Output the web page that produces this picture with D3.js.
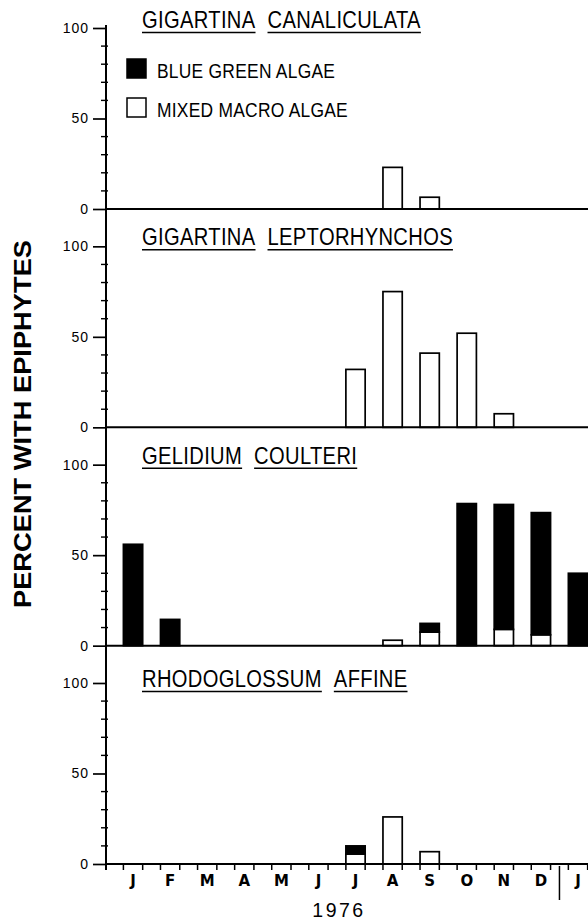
<!DOCTYPE html>
<html>
<head>
<meta charset="utf-8">
<script src="https://cdn.jsdelivr.net/npm/d3@7/dist/d3.min.js"></script>
<style>
  html, body { margin: 0; padding: 0; background: #fff; }
  svg { display: block; }
</style>
</head>
<body>
<svg id="chart" width="588" height="921"></svg>
<script>
// Months sampled: Jan 1976 through Jan 1977
const months = ["J", "F", "M", "A", "M", "J", "J", "A", "S", "O", "N", "D", "J"];
const yearLabel = "1976";
const yAxisTitle = "PERCENT WITH EPIPHYTES";
const yTickValues = [0, 50, 100];
const legendLabels = ["BLUE GREEN ALGAE", "MIXED MACRO ALGAE"];

// Species panels, top to bottom (genus, species)
const speciesTitles = [
  ["GIGARTINA", "CANALICULATA"],
  ["GIGARTINA", "LEPTORHYNCHOS"],
  ["GELIDIUM", "COULTERI"],
  ["RHODOGLOSSUM", "AFFINE"]
];

// Percent of plants carrying epiphytes, per month
const canaliculataMixed     = [0, 0, 0, 0, 0, 0, 0, 23, 6.5, 0, 0, 0, 0];
const canaliculataBlueGreen = [0, 0, 0, 0, 0, 0, 0, 0, 0, 0, 0, 0, 0];

const leptorhynchosMixed     = [0, 0, 0, 0, 0, 0, 32, 75, 41, 52, 7.5, 0, 0];
const leptorhynchosBlueGreen = [0, 0, 0, 0, 0, 0, 0, 0, 0, 0, 0, 0, 0];

const coulteriMixed     = [0, 0, 0, 0, 0, 0, 0, 3, 7.5, 0, 9, 6, 0];
const coulteriBlueGreen = [56, 14.5, 0, 0, 0, 0, 0, 0, 4.8, 78.5, 69, 67.5, 40];

const affineMixed     = [0, 0, 0, 0, 0, 0, 5.5, 26, 6.8, 0, 0, 0, 0];
const affineBlueGreen = [0, 0, 0, 0, 0, 0, 4.5, 0, 0, 0, 0, 0, 0];

const panels = [
  { title: speciesTitles[0], mixed: canaliculataMixed,  blueGreen: canaliculataBlueGreen },
  { title: speciesTitles[1], mixed: leptorhynchosMixed, blueGreen: leptorhynchosBlueGreen },
  { title: speciesTitles[2], mixed: coulteriMixed,      blueGreen: coulteriBlueGreen },
  { title: speciesTitles[3], mixed: affineMixed,        blueGreen: affineBlueGreen }
];

// ---- layout ----
const W = 588;
const axisX = 106;
const firstBase = 209;
const panelStep = 218.33;
const panelHeight = 181;
const titleShift = [0, -1, -1, 4];
const plainFont = "'Liberation Sans', Arial, Helvetica, sans-serif";
const condense = 0.84;        // horizontal squeeze for the condensed lettering
const legendCondense = 0.87;

const svg = d3.select("#chart");

const monthStep = 37.08;
const x = d3.scaleBand()
  .domain(d3.range(months.length))
  .range([114.5, 114.5 + months.length * monthStep])
  .paddingInner(0.48)
  .paddingOuter(0.24);
const bw = x.bandwidth();
const center = i => x(i) + bw / 2;

const stack = d3.stack().keys(["mixed", "blueGreen"]);
const fills = { mixed: "#fff", blueGreen: "#000" };

const lastBase = firstBase + (panels.length - 1) * panelStep;

panels.forEach((p, pi) => {
  const base = firstBase + pi * panelStep;
  const y = d3.scaleLinear().domain([0, 100]).range([base, base - panelHeight]);
  const g = svg.append("g");

  // bars (mixed macro algae at the bottom, blue-green stacked on top)
  const rows = months.map((m, j) => ({ idx: j, mixed: p.mixed[j], blueGreen: p.blueGreen[j] }));
  const series = stack(rows);
  series.forEach(s => {
    g.append("g").selectAll("rect")
      .data(s.filter(d => d[1] - d[0] > 0))
      .join("rect")
      .attr("x", d => x(d.data.idx))
      .attr("y", d => y(d[1]))
      .attr("width", bw)
      .attr("height", d => y(d[0]) - y(d[1]))
      .attr("fill", fills[s.key])
      .attr("stroke", "#000")
      .attr("stroke-width", 1.7);
  });

  // baseline
  g.append("line")
    .attr("x1", axisX).attr("x2", W + 2)
    .attr("y1", y(0)).attr("y2", y(0))
    .attr("stroke", "#000").attr("stroke-width", 2);

  // major ticks and labels
  const ax = g.append("g")
    .attr("transform", `translate(${axisX},0)`)
    .call(d3.axisLeft(y).tickValues(yTickValues).tickSize(13).tickPadding(4));
  ax.select(".domain").remove();
  ax.selectAll(".tick line").attr("stroke", "#000").attr("stroke-width", 1.7);
  ax.selectAll(".tick text")
    .attr("fill", "#000")
    .style("font-family", plainFont)
    .style("font-size", "14px")
    .style("letter-spacing", "1px");

  // minor ticks every 10
  g.append("g").selectAll("line")
    .data(y.ticks(10).filter(v => !yTickValues.includes(v)))
    .join("line")
    .attr("x1", axisX - 5).attr("x2", axisX + 2)
    .attr("y1", d => y(d)).attr("y2", d => y(d))
    .attr("stroke", "#000").attr("stroke-width", 1.4);

  // underlined species name, each word separately
  let cx = 142;
  const ty = y(100) + titleShift[pi];
  p.title.forEach(word => {
    const t = g.append("text")
      .attr("transform", `translate(${cx},${ty}) scale(${condense},1)`)
      .style("font-family", plainFont)
      .style("font-size", "24px")
      .style("letter-spacing", "0.4px")
      .attr("fill", "#000")
      .text(word);
    const len = t.node().getBBox().width * condense;
    g.append("line")
      .attr("x1", cx).attr("x2", cx + len)
      .attr("y1", ty + 4.5).attr("y2", ty + 4.5)
      .attr("stroke", "#000").attr("stroke-width", 1.5);
    cx += len + 12;
  });

  // legend sits in the first panel
  if (pi === 0) {
    const lg = g.append("g");
    const items = [{ key: "blueGreen", label: legendLabels[0], top: 59 },
                   { key: "mixed", label: legendLabels[1], top: 98 }];
    items.forEach(it => {
      lg.append("rect")
        .attr("x", 127).attr("y", it.top)
        .attr("width", 19).attr("height", 19)
        .attr("fill", fills[it.key])
        .attr("stroke", "#000").attr("stroke-width", 1.5);
      lg.append("text")
        .attr("transform", `translate(157,${it.top + 18.5}) scale(${legendCondense},1)`)
        .style("font-family", plainFont)
        .style("font-size", "20px")
        .style("letter-spacing", "0.3px")
        .attr("fill", "#000")
        .text(it.label);
    });
  }
});

// shared vertical axis line
svg.append("line")
  .attr("x1", axisX).attr("x2", axisX)
  .attr("y1", 25).attr("y2", lastBase + 6)
  .attr("stroke", "#000").attr("stroke-width", 2);

// month axis
const xAxis = svg.append("g")
  .attr("transform", `translate(0,${lastBase})`)
  .call(d3.axisBottom(x).tickSize(0).tickPadding(11).tickFormat(i => months[i]));
xAxis.select(".domain").remove();
xAxis.selectAll(".tick text")
  .attr("fill", "#000")
  .style("font-family", "'DejaVu Sans', 'Liberation Sans', sans-serif")
  .style("font-weight", "bold")
  .style("font-size", "15px");

// ticks at the edges of each month's bar
const edgeTicks = months.flatMap((m, i) => [x(i), x(i) + bw]);
svg.append("g").selectAll("line")
  .data(edgeTicks)
  .join("line")
  .attr("x1", d => d).attr("x2", d => d)
  .attr("y1", lastBase).attr("y2", lastBase + 6)
  .attr("stroke", "#000").attr("stroke-width", 1.5);

// year boundary between December and January
const sepX = (center(11) + center(12)) / 2;
svg.append("line")
  .attr("x1", sepX).attr("x2", sepX)
  .attr("y1", lastBase + 2).attr("y2", lastBase + 36)
  .attr("stroke", "#000").attr("stroke-width", 1.5);

svg.append("text")
  .attr("x", (center(0) + center(11)) / 2 + 2)
  .attr("y", 917)
  .attr("text-anchor", "middle")
  .style("font-family", plainFont)
  .style("font-size", "19.5px")
  .style("letter-spacing", "2.5px")
  .attr("fill", "#000")
  .text(yearLabel);

// y-axis title
svg.append("text")
  .attr("transform", "translate(31,424) rotate(-90)")
  .attr("text-anchor", "middle")
  .attr("textLength", 368)
  .attr("lengthAdjust", "spacingAndGlyphs")
  .style("font-family", plainFont)
  .style("font-weight", "bold")
  .style("font-size", "23px")
  .attr("fill", "#000")
  .text(yAxisTitle);
</script>
</body>
</html>
